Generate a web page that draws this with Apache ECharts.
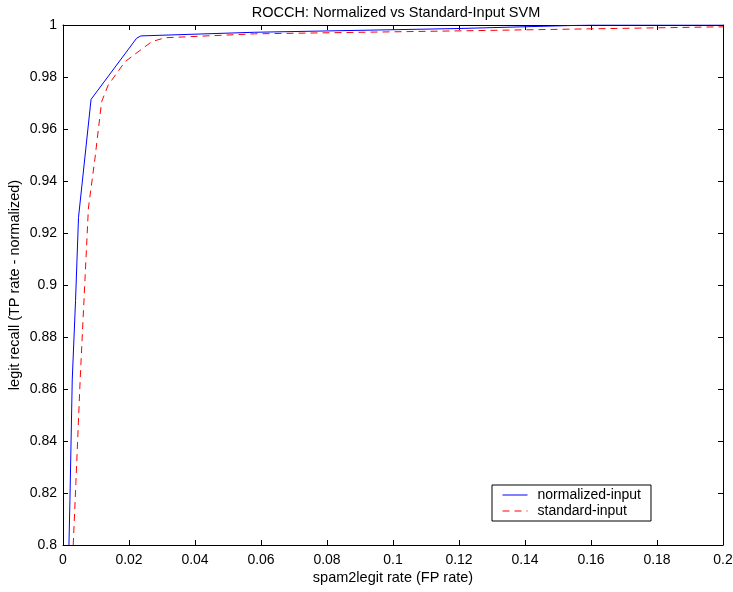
<!DOCTYPE html>
<html><head><meta charset="utf-8">
<script src="https://cdn.jsdelivr.net/npm/echarts@6/dist/echarts.min.js"></script>
<style>html,body{margin:0;padding:0;background:#fff}#c{width:733px;height:592px}</style>
</head><body><div id="c"></div>
<script>
const title = 'ROCCH: Normalized vs Standard-Input SVM';
const xLabel = 'spam2legit rate (FP rate)';
const yLabel = 'legit recall (TP rate - normalized)';
const seriesNames = ['normalized-input', 'standard-input'];
const normX = [0.0018, 0.0021, 0.0028, 0.0038, 0.0047, 0.0085, 0.0223, 0.0236, 0.058, 0.12, 0.16, 0.2];
const normY = [0.800, 0.817, 0.8635, 0.894, 0.926, 0.9714, 0.9949, 0.9958, 0.9972, 0.99865, 1.0, 1.0];
const stdX = [0.0031, 0.0039, 0.0052, 0.0077, 0.0097, 0.0117, 0.0137, 0.0188, 0.0269, 0.0309, 0.058, 0.12, 0.2];
const stdY = [0.800, 0.8238, 0.8635, 0.9296, 0.9488, 0.9705, 0.9769, 0.9859, 0.9936, 0.9951, 0.9966, 0.99775, 0.9993];

const font = 'Liberation Sans, Arial, sans-serif';
const pair = (xs, ys) => xs.map((x, i) => [x, ys[i]]);
const chart = echarts.init(document.getElementById('c'));
const axisCommon = {
  axisLine: {show: true, onZero: false, lineStyle: {color: '#000', width: 1}},
  axisTick: {show: true, inside: true, length: 5, lineStyle: {color: '#000'}},
  splitLine: {show: false}
};
chart.setOption({
  animation: false,
  backgroundColor: '#fff',
  title: {text: title, left: 391, top: 0, textAlign: 'center',
    textStyle: {fontFamily: font, fontSize: 14.5, fontWeight: 'normal', color: '#000'}},
  grid: {left: 63, right: 10, top: 25, bottom: 47, containLabel: false, outerBoundsMode: 'none'},
  legend: {
    data: seriesNames, orient: 'vertical', left: 492, top: 485,
    itemWidth: 25, itemHeight: 14, itemGap: 2,
    padding: [3, 10, 3, 10], borderColor: '#000', borderWidth: 1, backgroundColor: '#fff',
    itemStyle: {color: 'rgba(0,0,0,0)', borderWidth: 0, opacity: 0},
    lineStyle: {width: 1},
    textStyle: {fontFamily: font, fontSize: 14, lineHeight: 14, color: '#000', padding: [0, 0, 0, 5]}
  },
  xAxis: [
    Object.assign({type: 'value', min: 0, max: 0.2, interval: 0.02, position: 'bottom',
      name: xLabel, nameLocation: 'middle', nameGap: 25, nameMoveOverlap: false,
      nameTextStyle: {fontFamily: font, fontSize: 14.5, color: '#000'},
      axisLabel: {fontFamily: font, fontSize: 14, color: '#000', margin: 8}}, axisCommon),
    Object.assign({type: 'value', min: 0, max: 0.2, interval: 0.02, position: 'top',
      axisLabel: {show: false}}, axisCommon)
  ],
  yAxis: [
    Object.assign({type: 'value', min: 0.8, max: 1, interval: 0.02, position: 'left',
      name: yLabel, nameLocation: 'middle', nameGap: 41, nameMoveOverlap: false,
      nameTextStyle: {fontFamily: font, fontSize: 14.5, color: '#000'},
      axisLabel: {fontFamily: font, fontSize: 14, color: '#000', margin: 6}}, axisCommon),
    Object.assign({type: 'value', min: 0.8, max: 1, interval: 0.02, position: 'right',
      axisLabel: {show: false}}, axisCommon)
  ],
  series: [
    {name: seriesNames[0], type: 'line', data: pair(normX, normY), symbol: 'none', clip: true,
      color: '#0000ff', lineStyle: {color: '#0000ff', width: 1}},
    {name: seriesNames[1], type: 'line', data: pair(stdX, stdY), symbol: 'none', clip: true,
      color: '#ff0000', lineStyle: {color: '#ff0000', width: 1, type: [7, 5]}}
  ]
});
</script></body></html>
